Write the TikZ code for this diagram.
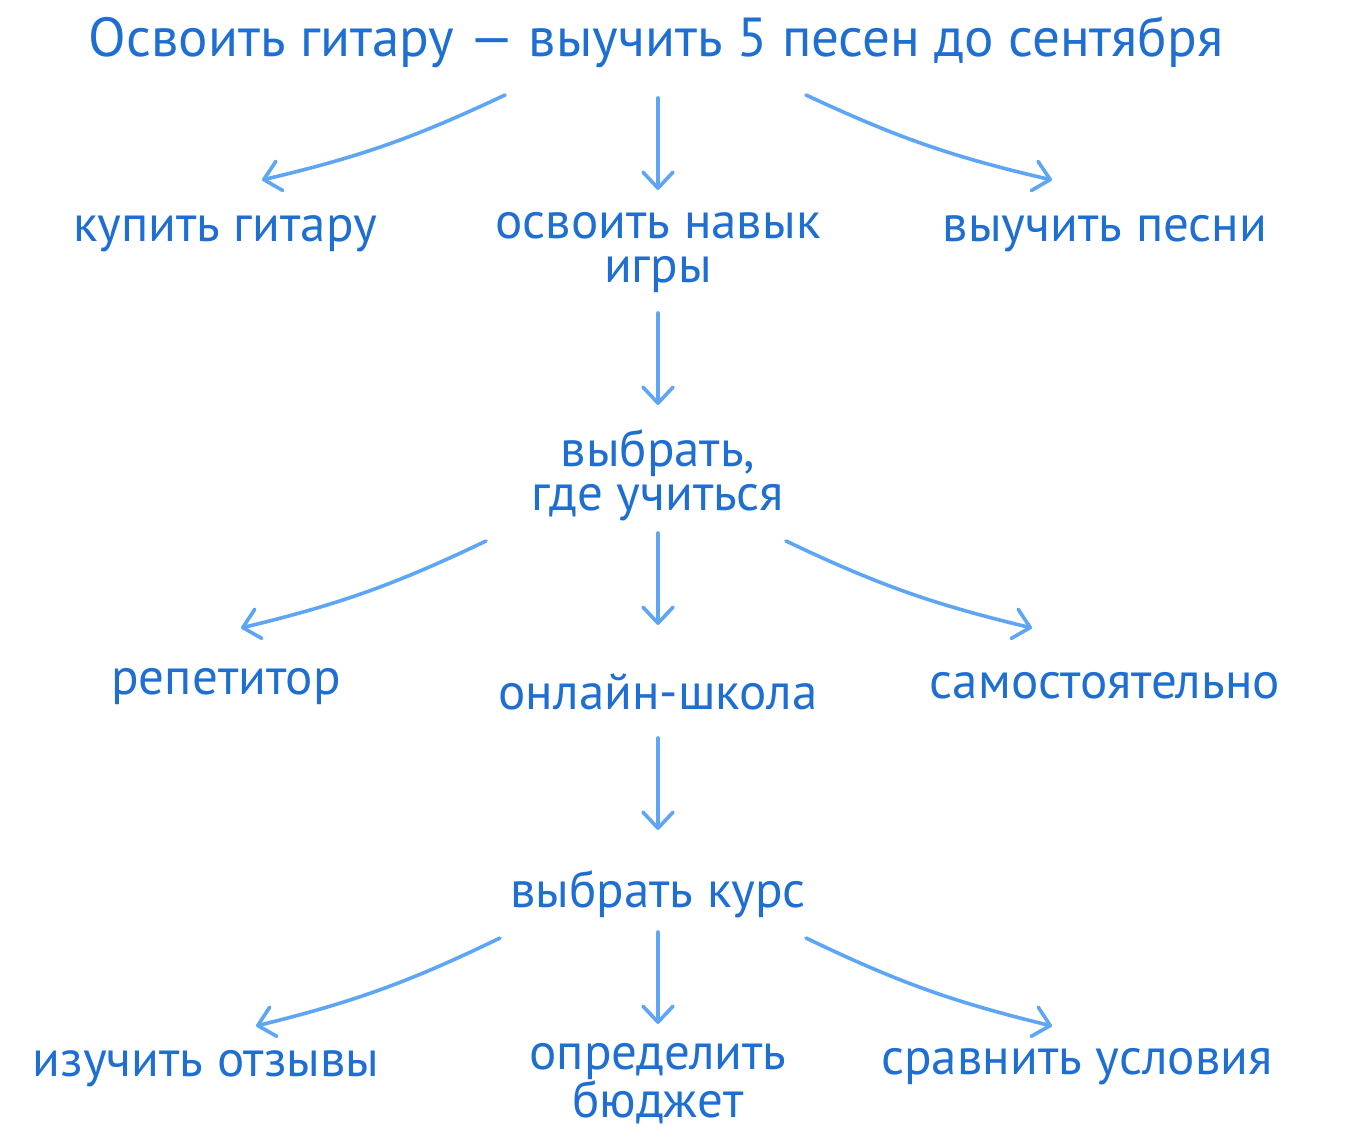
\documentclass[tikz,border=0pt]{standalone}
\usepackage{fontspec}
\setmainfont{PT Sans}
\usetikzlibrary{arrows.meta}
\definecolor{txt}{HTML}{1F6FD2}
\definecolor{arrc}{HTML}{5EA6F4}
\tikzset{
  lbl/.style={text=txt, inner sep=0pt, align=center, font=\fontsize{51}{44}\selectfont},
  ttl/.style={lbl, font=\fontsize{55}{50}\selectfont},
  arr/.style={draw=arrc, line width=3.6pt, line cap=round,
    -{Straight Barb[length=16pt,width=30pt,line width=3.6pt,round]}},
}
\begin{document}
\begin{tikzpicture}[x=1pt,y=-1pt]
\useasboundingbox[fill=white] (0,0) rectangle (1352,1138);
\node[ttl] (title) at (656,42) {Освоить гитару — выучить 5 песен до сентября};
\node[lbl] (kupit) at (225,234) {купить гитару};
\node[lbl] (osv) at (658,253) {освоить навык\\игры};
\node[lbl] (vyuch) at (1105,234) {выучить песни};
\node[lbl] (vybr) at (658,475) {выбрать,\\где учиться};
\node[lbl] (rep) at (226,687) {репетитор};
\node[lbl] (onl) at (658,692) {онлайн-школа};
\node[lbl] (sam) at (1105,686) {самостоятельно};
\node[lbl] (kurs) at (658,894) {выбрать курс};
\node[lbl] (otz) at (206,1069) {изучить отзывы};
\node[lbl] (bud) at (658,1084) {определить\\бюджет};
\node[lbl] (usl) at (1077,1067) {сравнить условия};

\draw[arr] ([shift={(-151,53)}]title.center) to[bend left=6] ([shift={(37,-54)}]kupit.center);
\draw[arr] ([shift={(2,56)}]title.center) -- ([shift={(0,-63)}]osv.center);
\draw[arr] ([shift={(150,53)}]title.center) to[bend right=6] ([shift={(-53,-54)}]vyuch.center);
\draw[arr] ([shift={(0,60)}]osv.center) -- ([shift={(0,-70)}]vybr.center);
\draw[arr] ([shift={(-172,66)}]vybr.center) to[bend left=6] ([shift={(15,-59)}]rep.center);
\draw[arr] ([shift={(0,58)}]vybr.center) -- ([shift={(0,-67)}]onl.center);
\draw[arr] ([shift={(128,66)}]vybr.center) to[bend right=6] ([shift={(-73,-58)}]sam.center);
\draw[arr] ([shift={(0,46)}]onl.center) -- ([shift={(0,-64)}]kurs.center);
\draw[arr] ([shift={(-158,44)}]kurs.center) to[bend left=6] ([shift={(50,-43)}]otz.center);
\draw[arr] ([shift={(0,38)}]kurs.center) -- ([shift={(0,-60)}]bud.center);
\draw[arr] ([shift={(148,44)}]kurs.center) to[bend right=6] ([shift={(-25,-41)}]usl.center);
\end{tikzpicture}
\end{document}
